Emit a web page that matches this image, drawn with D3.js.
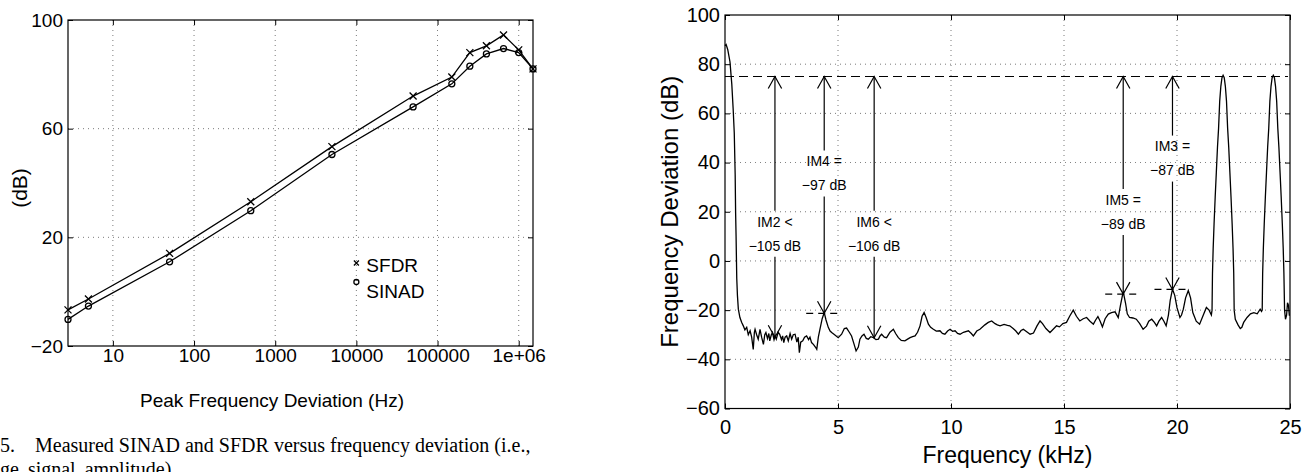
<!DOCTYPE html>
<html>
<head>
<meta charset="utf-8">
<script src="https://cdn.jsdelivr.net/npm/d3@7"></script>
<style>
body { margin: 0; background: #fff; }
svg { display: block; font-family: 'Liberation Sans', Arial, Helvetica, sans-serif; }
.grid { stroke: #000; stroke-width: 0.8; stroke-dasharray: 1,4; opacity: 0.65; }
.frame { fill: none; stroke: #000; stroke-width: 1.2; }
.axis path { display: none; }
.axis line { stroke: #000; stroke-width: 1; }
.axis text { fill: #000; }
.trace { fill: none; stroke: #000; stroke-width: 1.3; }
.ann { stroke: #000; stroke-width: 1.2; fill: none; }
</style>
</head>
<body>
<svg id="fig" width="1312" height="472"></svg>
<script>
// ---- left panel: SFDR / SINAD vs peak frequency deviation ----
var devHz = [2.8, 5, 50, 500, 5000, 50000, 150000, 250000, 400000, 650000, 1000000, 1500000];
var sfdrDb = [-6.7, -2.7, 14.1, 33.1, 53.4, 72, 79, 88, 90.5, 94.5, 89, 82];
var sinadDb = [-10.2, -5.3, 11.0, 29.8, 50.5, 68, 76.5, 83, 87.5, 89.5, 88, 82];
var devTicks = [10, 100, 1000, 10000, 100000, 1000000];
var devTickLabels = ['10', '100', '1000', '10000', '100000', '1e+06'];
var dbTicksLeft = [-20, 20, 60, 100];
var legendNames = ['SFDR', 'SINAD'];

// ---- right panel: output spectrum with two tones ----
var specKHz = [0.00, 0.05, 0.12, 0.22, 0.30, 0.36, 0.41, 0.45, 0.47, 0.49, 0.52, 0.55, 0.59, 0.66, 0.74, 0.81, 0.88, 0.96,
  1.03, 1.11, 1.18, 1.25, 1.30, 1.33, 1.40, 1.47, 1.55, 1.62, 1.70, 1.76, 1.81, 1.88, 1.94, 1.98, 2.05, 2.10, 2.17, 2.22,
  2.27, 2.35, 2.42, 2.50, 2.55, 2.60, 2.66, 2.73, 2.80, 2.88, 2.95, 3.02, 3.10, 3.18, 3.24, 3.29, 3.35, 3.44, 3.52, 3.61,
  3.70, 3.76, 3.83, 3.92, 4.00, 4.06, 4.13, 4.20, 4.30, 4.39, 4.47, 4.57, 4.65, 4.72, 4.85, 5.01, 5.16, 5.28, 5.38, 5.50,
  5.60, 5.70, 5.80, 5.90, 5.97, 6.06, 6.15, 6.25, 6.34, 6.45, 6.57, 6.68, 6.79, 6.86, 6.93, 7.05, 7.15, 7.30, 7.45, 7.55,
  7.67, 7.80, 7.96, 8.08, 8.19, 8.30, 8.41, 8.52, 8.63, 8.72, 8.81, 8.90, 9.00, 9.10, 9.22, 9.35, 9.51, 9.62, 9.73, 9.85,
  9.96, 10.07, 10.18, 10.29, 10.40, 10.55, 10.77, 10.90, 10.99, 11.14, 11.28, 11.50, 11.65, 11.80, 11.95, 12.05, 12.17,
  12.35, 12.50, 12.60, 12.75, 12.87, 12.98, 13.10, 13.20, 13.35, 13.50, 13.65, 13.80, 13.94, 14.05, 14.20, 14.38, 14.50,
  14.67, 14.80, 14.95, 15.11, 15.25, 15.41, 15.55, 15.70, 15.85, 16.00, 16.15, 16.30, 16.40, 16.50, 16.60, 16.70, 16.82,
  16.96, 17.10, 17.26, 17.40, 17.50, 17.62, 17.72, 17.80, 17.90, 18.05, 18.20, 18.35, 18.50, 18.65, 18.75, 18.88, 19.00,
  19.10, 19.20, 19.32, 19.42, 19.52, 19.62, 19.70, 19.80, 19.90, 20.00, 20.13, 20.20, 20.28, 20.38, 20.50, 20.60, 20.70,
  20.85, 21.00, 21.12, 21.30, 21.42, 21.52,
  21.55, 21.57, 21.60, 21.64, 21.69, 21.74, 21.79, 21.84, 21.89, 21.94, 21.99, 22.04, 22.09, 22.14, 22.19, 22.24, 22.29,
  22.34, 22.39, 22.44, 22.48, 22.51, 22.53, 22.58, 22.70, 22.80, 22.87, 22.95, 23.10, 23.25, 23.40, 23.55, 23.68, 23.74,
  23.77, 23.79, 23.82, 23.86, 23.91, 23.96, 24.01, 24.06, 24.11, 24.16, 24.21, 24.26, 24.31, 24.36, 24.41, 24.46, 24.51,
  24.56, 24.61, 24.66, 24.70, 24.73, 24.76, 24.80, 24.85, 24.89, 24.93, 24.97, 25.00];
var specDb = [87.5, 88, 86, 81, 72, 62, 52, 35, 19.5, 10, -7, -14, -19.6, -23, -25, -26.4, -28, -27,
  -30, -28.4, -31, -36, -29, -27.8, -30, -31.8, -27.8, -31, -33.9, -30, -29.1, -31.5, -29.5, -32.5, -30, -29.1, -32, -30.5,
  -31.8, -29, -29.8, -32, -30.5, -33.2, -31, -30.5, -32.5, -29.5, -31.8, -30, -29.8, -33, -31, -37.3, -33, -32.5, -31, -30.5,
  -32, -31, -33.2, -34, -35, -35.9, -31, -27.8, -23.5, -21, -24, -27, -28.5, -29.1, -30, -31.2, -29.8, -27.5, -27.3, -29,
  -30.5, -33.5, -36.6, -35, -31.8, -30.5, -29.8, -31.5, -31.8, -30.8, -31.2, -32, -31.8, -30.5, -29.8, -31, -31.2, -29, -27.8, -29.5,
  -31.2, -32.3, -32.5, -31.8, -31.2, -30.8, -30.5, -29, -26.4, -22.5, -21, -23, -25.7, -27, -27.8, -28.5, -28.4, -29.5, -29.8, -28.5,
  -27.8, -28.6, -28.4, -29.5, -29.8, -29, -28.4, -29.5, -30.5, -28.5, -27.8, -26, -25, -24.4, -25.5, -26, -26.4,
  -25.8, -26.2, -26.4, -27.5, -28.5, -29.8, -28.3, -27.8, -28.8, -29.8, -29.3, -26.5, -24.4, -25.5, -27.5, -29.1, -28,
  -26.4, -26.8, -25.5, -25, -22.5, -20, -22.5, -24.4, -23.5, -23, -24.5, -25.7, -24, -22.6, -24.5, -26.8, -23.5,
  -21.6, -21, -20.7, -23, -18, -12.5, -17, -21.5, -23, -23.2, -23.7, -25.5, -27.8, -26.5, -24.5, -23.7, -25,
  -26.4, -24.5, -23, -24.5, -26.4, -22, -16, -11.5, -14, -19, -23, -22, -19.6, -15, -12, -15, -21,
  -24.5, -25.7, -23, -18.9, -20, -22,
  -20, -5, 5, 15, 26, 36, 46, 54, 65, 71, 74.5, 75.5, 74.5, 71, 65, 54, 46,
  36, 26, 15, 5, -5, -20, -23.7, -26, -27.5, -27, -25, -23, -21.5, -21, -21.5, -19.6, -20.5,
  -20, -5, 5, 15, 26, 36, 46, 54, 65, 71, 74.5, 75.5, 74.5, 71, 65, 54, 46,
  36, 26, 15, 5, -5, -20, -23.7, -22, -17, -18, -22, -22];
var freqTicks = [0, 5, 10, 15, 20, 25];
var dbTicksRight = [-60, -40, -20, 0, 20, 40, 60, 80, 100];
var toneLevelDb = 75;

// intermodulation annotations
var imKHz = [2.21, 4.39, 6.6, 17.62, 19.8];
var imLevelDb = [-31, -21.3, -31.2, -13.5, -11.6];
var imLine1 = ['IM2 <', 'IM4 =', 'IM6 <', 'IM5 =', 'IM3 ='];
var imLine2 = ['\u2212105 dB', '\u221297 dB', '\u2212106 dB', '\u221289 dB', '\u221287 dB'];
var imTextDb = [15.9, 40.4, 15.9, 24.8, 46.5];
var imMarked = [false, true, false, true, true];

var svg = d3.select('#fig');

function styleAxis(g, size){
    g.attr('class', 'axis').attr('font-size', size).attr('font-family', null);
}

function drawLeftPanel(){
    var L = {left: 68, right: 533, top: 20, bottom: 346};
    var x = d3.scaleLog().domain([devHz[0], devHz[devHz.length-1]]).range([L.left, L.right]);
    var y = d3.scaleLinear().domain([-20, 100]).range([L.bottom, L.top]);
    var g = svg.append('g').attr('class', 'panel-left');

    //dotted grid
    g.selectAll('.vgrid').data(devTicks).enter().append('line')
        .attr('class', 'grid')
        .attr('x1', d => x(d)).attr('x2', d => x(d))
        .attr('y1', L.top).attr('y2', L.bottom);
    g.selectAll('.hgrid').data(dbTicksLeft.slice(1, -1)).enter().append('line')
        .attr('class', 'grid')
        .attr('x1', L.left).attr('x2', L.right)
        .attr('y1', d => y(d)).attr('y2', d => y(d));

    //axes, ticks pointing inward
    g.append('g').attr('transform', 'translate(0,' + L.bottom + ')')
        .call(d3.axisBottom(x).tickValues(devTicks).tickFormat((d, i) => devTickLabels[i])
            .tickSizeInner(-5).tickSizeOuter(0).tickPadding(2))
        .call(styleAxis, 19);
    g.append('g').attr('transform', 'translate(0,' + L.top + ')')
        .call(d3.axisTop(x).tickValues(devTicks).tickFormat('').tickSizeInner(-5).tickSizeOuter(0))
        .call(styleAxis, 19);
    g.append('g').attr('transform', 'translate(' + L.left + ',0)')
        .call(d3.axisLeft(y).tickValues(dbTicksLeft).tickFormat(d => d < 0 ? '\u2212' + (-d) : d)
            .tickSizeInner(-5).tickSizeOuter(0).tickPadding(5))
        .call(styleAxis, 19);
    g.append('g').attr('transform', 'translate(' + L.right + ',0)')
        .call(d3.axisRight(y).tickValues(dbTicksLeft).tickFormat('').tickSizeInner(-5).tickSizeOuter(0))
        .call(styleAxis, 19);
    g.append('rect').attr('class', 'frame')
        .attr('x', L.left).attr('y', L.top)
        .attr('width', L.right - L.left).attr('height', L.bottom - L.top);

    //series lines
    var series = [sfdrDb, sinadDb];
    series.forEach((s, k) => {
        var line = d3.line().x((d, i) => x(devHz[i])).y(d => y(d));
        g.append('path').attr('class', 'trace').attr('d', line(s));
    });

    //markers: x for SFDR, o for SINAD
    var cross = 3.5;
    sfdrDb.forEach((d, i) => {
        var cx = x(devHz[i]), cy = y(d);
        g.append('path').attr('class', 'trace').attr('stroke-width', 1.1)
            .attr('d', 'M' + (cx-cross) + ',' + (cy-cross) + 'L' + (cx+cross) + ',' + (cy+cross) +
                       'M' + (cx-cross) + ',' + (cy+cross) + 'L' + (cx+cross) + ',' + (cy-cross));
    });
    g.selectAll('.sinad-mark').data(sinadDb).enter().append('circle')
        .attr('class', 'trace').attr('stroke-width', 1.1)
        .attr('cx', (d, i) => x(devHz[i])).attr('cy', d => y(d)).attr('r', 3);

    //legend
    var lx = x(10000);
    var lg = g.append('g').attr('class', 'legend');
    var c = 2.5;
    lg.append('path').attr('class', 'trace').attr('stroke-width', 1)
        .attr('d', 'M' + (lx-c) + ',' + (263-c) + 'L' + (lx+c) + ',' + (263+c) +
                   'M' + (lx-c) + ',' + (263+c) + 'L' + (lx+c) + ',' + (263-c));
    lg.append('circle').attr('class', 'trace').attr('stroke-width', 1)
        .attr('cx', lx).attr('cy', 282).attr('r', 2.5);
    lg.selectAll('text').data(legendNames).enter().append('text')
        .attr('x', lx + 10).attr('y', (d, i) => 272 + i * 26)
        .attr('font-size', 19).text(d => d);

    //axis titles
    g.append('text').attr('x', 272).attr('y', 407)
        .attr('text-anchor', 'middle').attr('font-size', 19)
        .text('Peak Frequency Deviation (Hz)');
    g.append('text').attr('transform', 'translate(27,188) rotate(-90)')
        .attr('text-anchor', 'middle').attr('font-size', 21)
        .text('(dB)');
}

function drawRightPanel(){
    var R = {left: 725, right: 1290, top: 15, bottom: 408.5};
    var x = d3.scaleLinear().domain([0, 25]).range([R.left, R.right]);
    var y = d3.scaleLinear().domain([-60, 100]).range([R.bottom, R.top]);
    var g = svg.append('g').attr('class', 'panel-right');

    g.selectAll('.vgrid').data(freqTicks.slice(1, -1)).enter().append('line')
        .attr('class', 'grid')
        .attr('x1', d => x(d)).attr('x2', d => x(d))
        .attr('y1', R.top).attr('y2', R.bottom);
    g.selectAll('.hgrid').data(dbTicksRight.slice(1, -1)).enter().append('line')
        .attr('class', 'grid')
        .attr('x1', R.left).attr('x2', R.right)
        .attr('y1', d => y(d)).attr('y2', d => y(d));

    g.append('g').attr('transform', 'translate(0,' + R.bottom + ')')
        .call(d3.axisBottom(x).tickValues(freqTicks).tickSizeInner(-5).tickSizeOuter(0).tickPadding(11))
        .call(styleAxis, 20);
    g.append('g').attr('transform', 'translate(0,' + R.top + ')')
        .call(d3.axisTop(x).tickValues(freqTicks).tickFormat('').tickSizeInner(-5).tickSizeOuter(0))
        .call(styleAxis, 20);
    g.append('g').attr('transform', 'translate(' + R.left + ',0)')
        .call(d3.axisLeft(y).tickValues(dbTicksRight).tickFormat(d => d < 0 ? '\u2212' + (-d) : d)
            .tickSizeInner(-5).tickSizeOuter(0).tickPadding(5))
        .call(styleAxis, 20);
    g.append('g').attr('transform', 'translate(' + R.right + ',0)')
        .call(d3.axisRight(y).tickValues(dbTicksRight).tickFormat('').tickSizeInner(-5).tickSizeOuter(0))
        .call(styleAxis, 20);
    g.append('rect').attr('class', 'frame')
        .attr('x', R.left).attr('y', R.top)
        .attr('width', R.right - R.left).attr('height', R.bottom - R.top);

    //tone level reference
    g.append('line').attr('class', 'ann').attr('stroke-dasharray', '9,5')
        .attr('x1', R.left).attr('x2', R.right - 2)
        .attr('y1', y(toneLevelDb)).attr('y2', y(toneLevelDb));

    //spectrum
    var line = d3.line().x((d, i) => x(specKHz[i])).y(d => y(d));
    g.append('path').attr('class', 'trace').attr('stroke-width', 1.2).attr('d', line(specDb));

    //IM annotations: double arrows broken by the label
    var headW = 6.7, headH = 12, lineGap = 24;
    imKHz.forEach((f, i) => {
        var ax = x(f);
        var yTop = y(toneLevelDb), yBot = y(imLevelDb[i]);
        var t1 = y(imTextDb[i]), t2 = t1 + lineGap;
        g.append('line').attr('class', 'ann')
            .attr('x1', ax).attr('x2', ax).attr('y1', yTop).attr('y2', t1 - 11);
        g.append('line').attr('class', 'ann')
            .attr('x1', ax).attr('x2', ax).attr('y1', t2 + 11).attr('y2', yBot);
        g.append('path').attr('class', 'ann')
            .attr('d', 'M' + (ax-headW) + ',' + (yTop+headH) + 'L' + ax + ',' + yTop + 'L' + (ax+headW) + ',' + (yTop+headH));
        g.append('path').attr('class', 'ann')
            .attr('d', 'M' + (ax-headW) + ',' + (yBot-headH) + 'L' + ax + ',' + yBot + 'L' + (ax+headW) + ',' + (yBot-headH));
        if (imMarked[i]){
            g.append('line').attr('class', 'ann').attr('stroke-dasharray', '7,5')
                .attr('x1', ax - 18).attr('x2', ax + 18)
                .attr('y1', yBot).attr('y2', yBot);
        }
        g.append('text').attr('x', ax).attr('y', t1).attr('dy', '0.35em')
            .attr('text-anchor', 'middle').attr('font-size', 14).text(imLine1[i]);
        g.append('text').attr('x', ax).attr('y', t2).attr('dy', '0.35em')
            .attr('text-anchor', 'middle').attr('font-size', 14).text(imLine2[i]);
    });

    //axis titles
    g.append('text').attr('x', (R.left + R.right) / 2).attr('y', 463)
        .attr('text-anchor', 'middle').attr('font-size', 23)
        .text('Frequency (kHz)');
    g.append('text').attr('transform', 'translate(678,' + ((R.top + R.bottom) / 2) + ') rotate(-90)')
        .attr('text-anchor', 'middle').attr('font-size', 24)
        .text('Frequency Deviation (dB)');
}

function drawCaption(){
    var cap = svg.append('g').attr('class', 'caption')
        .attr('font-family', "'Liberation Serif', 'Times New Roman', serif").attr('font-size', 20);
    cap.append('text').attr('x', 0).attr('y', 452).text('5.');
    var t = cap.append('text').attr('x', 35).attr('y', 452)
        .text('Measured SINAD and SFDR versus frequency deviation (i.e.,');
    //justify the line like the printed caption
    var natural = t.node().getComputedTextLength();
    var spaces = 7;
    t.attr('word-spacing', Math.max(0, (527 - 35 - natural) / spaces));
    cap.append('text').attr('x', 0).attr('y', 476).attr('word-spacing', 4)
        .text('ge signal amplitude).');
}

drawLeftPanel();
drawRightPanel();
drawCaption();
</script>
</body>
</html>
